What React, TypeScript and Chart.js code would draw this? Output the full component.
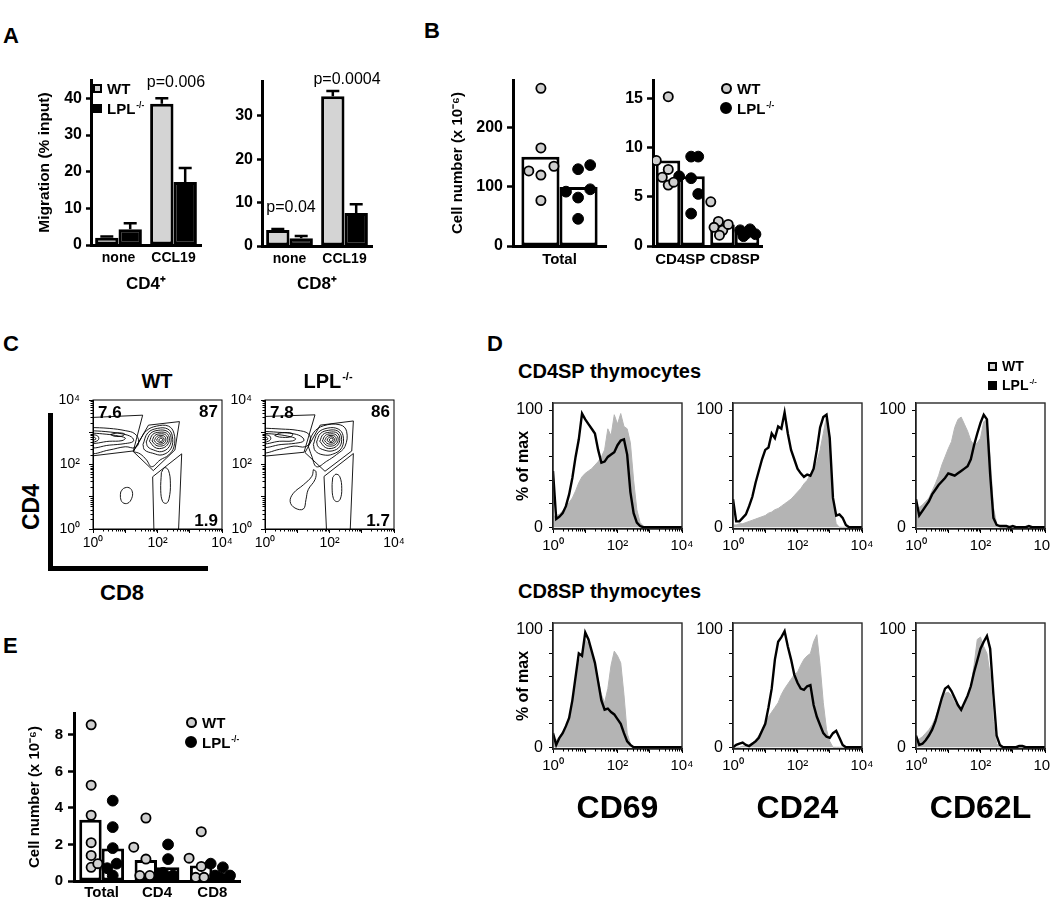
import React, { useEffect, useRef } from "react";
import { Chart, registerables } from "chart.js";
Chart.register(...registerables);

const FONT = "'Liberation Sans', Arial, Helvetica, sans-serif";
Chart.defaults.font.family = FONT;
Chart.defaults.color = "#000";

// ================= DATA =================
// Panel A (migration, % input)
const A_CATEGORIES = ["none", "CCL19"];
const A_CD4_WT = [2.0, 38.5];
const A_CD4_WT_ERR = [0.3, 1.5];
const A_CD4_LPL = [4.3, 17.2];
const A_CD4_LPL_ERR = [1.6, 3.8];
const A_CD8_WT = [3.7, 34.5];
const A_CD8_WT_ERR = [0.2, 1.2];
const A_CD8_LPL = [1.8, 7.6];
const A_CD8_LPL_ERR = [0.5, 2.0];
const A_CD4_TICKS = [0, 10, 20, 30, 40];
const A_CD8_TICKS = [0, 10, 20, 30];

// Panel B (cell number x 10^-6)
const B_TOTAL_CATEGORIES = ["Total"];
const B_TOTAL_WT_MEAN = [151];
const B_TOTAL_LPL_MEAN = [100];
const B_TOTAL_WT_POINTS = [
  { x: -0.2, y: 267 }, { x: -0.2, y: 166 }, { x: -0.33, y: 127 },
  { x: -0.2, y: 120 }, { x: -0.06, y: 135 }, { x: -0.2, y: 77 },
];
const B_TOTAL_LPL_POINTS = [
  { x: 0.2, y: 130 }, { x: 0.33, y: 137 }, { x: 0.07, y: 92 },
  { x: 0.33, y: 96 }, { x: 0.2, y: 82 }, { x: 0.2, y: 46 },
];
const B_TOTAL_TICKS = [0, 100, 200];

const B_SP_CATEGORIES = ["CD4SP", "CD8SP"];
const B_SP_WT_MEAN = [8.7, 2.2];
const B_SP_LPL_MEAN = [7.1, 1.5];
const B_SP_WT_POINTS = [
  { x: -0.44, y: 8.7 }, { x: -0.22, y: 15.2 }, { x: -0.22, y: 7.8 },
  { x: -0.33, y: 7.0 }, { x: -0.22, y: 6.2 }, { x: -0.12, y: 6.5 },
  { x: 0.56, y: 4.5 }, { x: 0.7, y: 2.5 }, { x: 0.62, y: 1.9 },
  { x: 0.78, y: 1.6 }, { x: 0.88, y: 2.2 }, { x: 0.72, y: 1.1 },
];
const B_SP_LPL_POINTS = [
  { x: 0.2, y: 9.1 }, { x: 0.33, y: 9.1 }, { x: -0.02, y: 7.1 },
  { x: 0.2, y: 6.9 }, { x: 0.33, y: 5.3 }, { x: 0.2, y: 3.3 },
  { x: 1.1, y: 1.6 }, { x: 1.22, y: 1.3 }, { x: 1.3, y: 1.5 },
  { x: 1.38, y: 1.2 }, { x: 1.16, y: 1.0 }, { x: 1.28, y: 1.7 },
];
const B_SP_TICKS = [0, 5, 10, 15];

// Panel E
const E_CATEGORIES = ["Total", "CD4", "CD8"];
const E_WT_MEAN = [3.35, 1.15, 0.85];
const E_LPL_MEAN = [1.78, 0.75, 0.42];
const E_WT_POINTS = [
  { x: -0.19, y: 8.55 }, { x: -0.19, y: 5.25 }, { x: -0.19, y: 3.6 }, { x: -0.19, y: 2.1 },
  { x: -0.19, y: 1.4 }, { x: -0.19, y: 0.75 }, { x: -0.07, y: 0.95 },
  { x: 0.58, y: 1.85 }, { x: 0.8, y: 3.45 }, { x: 0.8, y: 1.2 }, { x: 0.69, y: 0.3 }, { x: 0.87, y: 0.3 },
  { x: 1.58, y: 1.25 }, { x: 1.8, y: 2.7 }, { x: 1.8, y: 0.8 }, { x: 1.7, y: 0.2 }, { x: 1.85, y: 0.2 },
];
const E_LPL_POINTS = [
  { x: 0.2, y: 4.4 }, { x: 0.2, y: 2.95 }, { x: 0.2, y: 1.8 }, { x: 0.27, y: 0.95 }, { x: 0.1, y: 0.7 }, { x: 0.2, y: 0.3 },
  { x: 1.2, y: 2.0 }, { x: 1.2, y: 1.2 }, { x: 1.11, y: 0.45 }, { x: 1.2, y: 0.1 }, { x: 1.29, y: 0.3 }, { x: 1.15, y: 0.25 },
  { x: 1.97, y: 0.95 }, { x: 2.19, y: 0.75 }, { x: 2.05, y: 0.3 }, { x: 2.19, y: 0.1 }, { x: 2.32, y: 0.3 }, { x: 2.12, y: 0.2 },
];
const E_TICKS = [0, 2, 4, 6, 8];

// Log-axis labels (values are log10 units)
const LOG_MAJOR = [0, 1, 2, 3, 4];
const LOG_LABELS = ["10⁰", "", "10²", "", "10⁴"];
const LOG_MINOR = [
  0.301, 0.477, 0.602, 0.699, 0.778, 0.845, 0.903, 0.954,
  1.301, 1.477, 1.602, 1.699, 1.778, 1.845, 1.903, 1.954,
  2.301, 2.477, 2.602, 2.699, 2.778, 2.845, 2.903, 2.954,
  3.301, 3.477, 3.602, 3.699, 3.778, 3.845, 3.903, 3.954,
];

// Panel C contours (x = log10 CD8, y = log10 CD4)
type Pt = [number, number];
const C_WT_LOOPS: Pt[][] = [
  [[1.25, 2.4], [1.46, 2.76], [1.66, 3.05], [1.97, 3.19], [2.34, 3.19], [2.51, 2.97], [2.51, 2.55], [2.34, 2.29], [2.08, 2.14], [1.82, 1.93], [1.66, 2.14], [1.46, 2.33]],
  [[1.55, 2.62], [1.7, 2.98], [2.0, 3.12], [2.32, 3.1], [2.46, 2.88], [2.42, 2.5], [2.15, 2.3], [1.85, 2.35], [1.6, 2.45]],
  [[1.65, 2.7], [1.78, 2.96], [2.02, 3.06], [2.3, 3.03], [2.42, 2.84], [2.36, 2.55], [2.13, 2.4], [1.88, 2.45], [1.7, 2.55]],
  [[1.75, 2.72], [1.85, 2.93], [2.05, 3.0], [2.28, 2.97], [2.37, 2.8], [2.3, 2.6], [2.12, 2.5], [1.92, 2.53]],
  [[1.83, 2.73], [1.92, 2.9], [2.08, 2.95], [2.25, 2.92], [2.32, 2.78], [2.25, 2.63], [2.1, 2.57], [1.95, 2.6]],
  [[1.9, 2.74], [1.98, 2.87], [2.1, 2.9], [2.22, 2.87], [2.26, 2.76], [2.2, 2.66], [2.08, 2.63], [1.97, 2.66]],
  [[1.97, 2.75], [2.03, 2.84], [2.12, 2.86], [2.19, 2.82], [2.2, 2.74], [2.14, 2.68], [2.05, 2.69]],
  [[2.04, 2.76], [2.08, 2.81], [2.14, 2.81], [2.16, 2.76], [2.12, 2.72], [2.07, 2.72]],
  [[-0.1, 3.15], [0.5, 3.12], [1.0, 3.05], [1.3, 2.95], [1.42, 2.7], [1.3, 2.52], [1.0, 2.55], [0.5, 2.45], [-0.1, 2.38]],
  [[-0.1, 3.05], [0.4, 3.02], [0.9, 2.95], [1.2, 2.85], [1.25, 2.72], [1.0, 2.65], [0.5, 2.6], [-0.1, 2.55]],
  [[-0.1, 2.98], [0.3, 2.95], [0.7, 2.9], [1.0, 2.82], [0.9, 2.74], [0.5, 2.72], [-0.1, 2.68]],
  [[0.55, 2.93], [0.75, 2.98], [0.98, 2.95], [0.9, 2.88], [0.65, 2.88]],
  [[-0.1, 2.92], [0.12, 2.9], [0.18, 2.8], [0.1, 2.72], [-0.1, 2.7]],
  [[-0.1, 2.86], [0.06, 2.84], [0.08, 2.78], [-0.1, 2.76]],
  [[0.86, 1.15], [0.95, 1.26], [1.12, 1.28], [1.22, 1.15], [1.2, 0.95], [1.08, 0.8], [0.92, 0.82], [0.85, 0.98]],
  [[2.12, 1.75], [2.22, 1.9], [2.34, 1.82], [2.4, 1.4], [2.36, 0.95], [2.28, 0.8], [2.16, 0.85], [2.1, 1.2]],
];
const C_WT_GATES: Pt[][] = [
  [[0, 3.46], [1.54, 3.53], [1.25, 2.42], [0, 2.27]],
  [[1.72, 3.22], [2.68, 3.33], [2.54, 2.45], [1.87, 1.81], [1.25, 2.4]],
];
const C_WT_OPEN_GATES: Pt[][] = [
  [[1.89, -0.1], [1.85, 1.62], [2.75, 2.33], [2.65, -0.1]],
];
const C_LPL_LOOPS: Pt[][] = [
  [[1.34, 2.57], [1.5, 2.98], [1.81, 3.2], [2.33, 3.23], [2.53, 3.03], [2.48, 2.56], [2.22, 2.31], [1.91, 2.1], [1.6, 1.93], [1.45, 2.26]],
  [[1.5, 2.62], [1.64, 2.98], [1.95, 3.13], [2.27, 3.1], [2.42, 2.9], [2.38, 2.52], [2.1, 2.32], [1.8, 2.3], [1.56, 2.42]],
  [[1.6, 2.7], [1.72, 2.96], [1.97, 3.06], [2.25, 3.04], [2.37, 2.85], [2.32, 2.56], [2.08, 2.42], [1.83, 2.45], [1.65, 2.55]],
  [[1.7, 2.72], [1.8, 2.93], [2.0, 3.0], [2.23, 2.98], [2.32, 2.8], [2.25, 2.6], [2.07, 2.5], [1.87, 2.53]],
  [[1.78, 2.73], [1.87, 2.9], [2.03, 2.95], [2.2, 2.92], [2.27, 2.78], [2.2, 2.63], [2.05, 2.57], [1.9, 2.6]],
  [[1.85, 2.74], [1.93, 2.87], [2.05, 2.9], [2.17, 2.87], [2.21, 2.76], [2.15, 2.66], [2.03, 2.63], [1.92, 2.66]],
  [[1.92, 2.75], [1.98, 2.84], [2.07, 2.86], [2.14, 2.82], [2.15, 2.74], [2.09, 2.68], [2.0, 2.69]],
  [[1.99, 2.76], [2.03, 2.81], [2.09, 2.81], [2.11, 2.76], [2.07, 2.72], [2.02, 2.72]],
  [[1.5, 1.84], [1.45, 1.63], [1.19, 1.37], [0.88, 1.11], [0.78, 0.85], [0.93, 0.65], [1.19, 0.62], [1.27, 0.91], [1.34, 1.22], [1.55, 1.53], [1.58, 1.78]],
  [[-0.1, 3.13], [0.5, 3.1], [1.0, 3.06], [1.35, 2.95], [1.4, 2.72], [1.25, 2.55], [0.9, 2.57], [0.45, 2.47], [-0.1, 2.4]],
  [[-0.1, 3.03], [0.4, 3.0], [0.9, 2.95], [1.15, 2.85], [1.2, 2.73], [0.95, 2.66], [0.5, 2.62], [-0.1, 2.56]],
  [[-0.1, 2.97], [0.3, 2.94], [0.7, 2.88], [0.95, 2.8], [0.85, 2.73], [0.45, 2.72], [-0.1, 2.66]],
  [[0.3, 2.9], [0.5, 2.98], [0.85, 2.96], [0.8, 2.86], [0.45, 2.85]],
  [[-0.1, 2.92], [0.12, 2.9], [0.18, 2.8], [0.1, 2.72], [-0.1, 2.7]],
  [[-0.1, 2.86], [0.06, 2.84], [0.08, 2.78], [-0.1, 2.76]],
  [[2.1, 1.6], [2.2, 1.7], [2.32, 1.62], [2.38, 1.25], [2.33, 0.92], [2.22, 0.85], [2.12, 0.95], [2.08, 1.3]],
];
const C_LPL_GATES: Pt[][] = [
  [[0, 3.49], [1.55, 3.54], [1.21, 2.38], [0, 2.26]],
  [[1.71, 3.22], [2.74, 3.35], [2.69, 2.42], [1.86, 1.79], [1.24, 2.37]],
];
const C_LPL_OPEN_GATES: Pt[][] = [
  [[1.91, -0.1], [1.83, 1.63], [2.74, 2.34], [2.64, -0.1]],
];

// Panel D histograms (% of max) on a log10 grid
const HX = [0, 0.1, 0.2, 0.3, 0.4, 0.5, 0.6, 0.7, 0.8, 0.9, 1, 1.1, 1.2, 1.3, 1.4, 1.5, 1.6, 1.7, 1.8, 1.9, 2, 2.1, 2.2, 2.3, 2.4, 2.5, 2.6, 2.7, 2.8, 2.9, 3, 3.1, 3.2, 3.3, 3.4, 3.5, 3.6, 3.7, 3.8, 3.9, 4];
const D_CD4_CD69_WT = [9, 10, 11, 14, 17, 21, 25, 31, 38, 43, 46, 48, 50, 53, 56, 60, 66, 84, 78, 96, 88, 97, 86, 84, 72, 40, 15, 4, 1, 0, 0, 0, 0, 0, 0, 0, 0, 0, 0, 0, 0];
const D_CD4_CD69_LPL = [48, 7, 9, 12, 18, 28, 42, 60, 75, 97, 92, 88, 84, 80, 66, 55, 56, 60, 62, 64, 70, 74, 75, 62, 30, 12, 4, 1, 0, 0, 0, 0, 0, 0, 0, 0, 0, 0, 0, 0, 0];
const D_CD4_CD24_WT = [2, 2, 3, 3, 4, 5, 6, 7, 8, 9, 10, 12, 13, 15, 16, 18, 20, 22, 24, 27, 30, 33, 37, 40, 45, 50, 56, 66, 80, 95, 78, 20, 3, 0, 0, 0, 0, 0, 0, 0, 0];
const D_CD4_CD24_LPL = [24, 5, 5, 8, 11, 18, 26, 38, 48, 58, 66, 68, 80, 76, 86, 84, 98, 80, 66, 58, 50, 46, 43, 45, 44, 50, 66, 85, 94, 96, 76, 25, 10, 11, 8, 2, 0, 0, 0, 0, 0];
const D_CD4_CD62L_WT = [16, 17, 19, 22, 25, 31, 37, 44, 53, 60, 67, 73, 85, 92, 94, 88, 82, 74, 70, 72, 76, 90, 92, 60, 17, 3, 0, 0, 0, 0, 0, 0, 0, 0, 0, 0, 0, 0, 0, 0, 0];
const D_CD4_CD62L_LPL = [24, 10, 14, 18, 22, 28, 32, 36, 39, 42, 46, 45, 44, 46, 48, 50, 52, 58, 70, 80, 89, 96, 92, 45, 8, 2, 1, 1, 1, 0, 1, 0, 0, 0, 0, 1, 0, 0, 0, 0, 0];
const D_CD8_CD69_WT = [5, 6, 9, 13, 18, 24, 36, 55, 72, 80, 92, 88, 80, 70, 58, 45, 38, 50, 70, 82, 78, 72, 45, 12, 3, 0, 0, 0, 0, 0, 0, 0, 0, 0, 0, 0, 0, 0, 0, 0, 0];
const D_CD8_CD69_LPL = [12, 2, 8, 12, 18, 25, 40, 60, 80, 78, 98, 92, 82, 72, 56, 40, 32, 33, 30, 28, 24, 20, 12, 5, 2, 0, 0, 0, 0, 0, 0, 0, 0, 0, 0, 0, 0, 0, 0, 0, 0];
const D_CD8_CD24_WT = [0, 0, 0, 1, 1, 2, 4, 6, 10, 15, 20, 26, 30, 34, 38, 45, 50, 54, 58, 62, 64, 70, 75, 78, 80, 90, 96, 70, 38, 15, 5, 0, 0, 0, 0, 0, 0, 0, 0, 0, 0];
const D_CD8_CD24_LPL = [0, 2, 3, 4, 2, 1, 3, 5, 8, 14, 20, 34, 50, 75, 90, 94, 99, 86, 75, 62, 55, 50, 49, 52, 53, 36, 26, 19, 12, 9, 8, 12, 14, 8, 2, 0, 0, 0, 0, 0, 0];
const D_CD8_CD62L_WT = [6, 7, 9, 12, 15, 19, 25, 33, 40, 46, 47, 44, 38, 35, 33, 34, 42, 52, 70, 92, 94, 86, 80, 62, 22, 3, 0, 0, 0, 0, 0, 0, 0, 0, 0, 0, 0, 0, 0, 0, 0];
const D_CD8_CD62L_LPL = [10, 2, 3, 6, 10, 15, 22, 32, 42, 50, 52, 48, 42, 36, 32, 38, 44, 52, 64, 74, 84, 90, 95, 84, 45, 10, 2, 0, 0, 0, 0, 0, 1, 1, 0, 0, 0, 0, 0, 0, 0];
const D_TICKS = [0, 20, 40, 60, 80, 100];

// ================= STYLE HELPERS =================
const WT_BAR = "#d4d4d4";
const WT_DOT = "#cfcfcf";
const HIST_GRAY = "#b4b4b4";
const bold = (size: number) => ({ family: FONT, size, weight: "bold" as const });
const norm = (size: number) => ({ family: FONT, size, weight: "normal" as const });

function valueAxis(min: number, max: number, ticks: number[], o: any) {
  return {
    type: "linear", position: "left", min, max,
    afterBuildTicks: (s: any) => { s.ticks = ticks.map((v) => ({ value: v })); },
    ticks: { font: o.font, color: "#000", padding: o.pad, autoSkip: false, callback: o.label || ((v: any) => String(v)) },
    grid: { display: true, drawOnChartArea: false, drawTicks: true, tickLength: o.tickLen, tickWidth: o.tickW, tickColor: "#000" },
    border: { display: true, width: o.lw, color: "#000" },
    title: o.title ? { display: true, text: o.title, font: o.titleFont, color: "#000", padding: 0 } : { display: false },
  };
}
function catAxis(o: any) {
  return {
    type: "category", position: "bottom", offset: true,
    ticks: { font: o.font, color: "#000", padding: o.pad, autoSkip: false, maxRotation: 0 },
    grid: { display: false, drawTicks: false, tickLength: 0 },
    border: { display: true, width: o.lw, color: "#000" },
    title: o.title ? { display: true, text: o.title, font: o.titleFont, color: "#000", padding: 0 } : { display: false },
  };
}
function logAxis(pos: "bottom" | "left", o: any) {
  return {
    type: "linear", position: pos, min: 0, max: 4,
    afterBuildTicks: (s: any) => { s.ticks = LOG_MAJOR.map((v) => ({ value: v })); },
    ticks: { font: o.font, color: "#000", padding: o.pad, autoSkip: false, maxRotation: 0, callback: (v: any) => LOG_LABELS[Math.round(v)] || "" },
    grid: { display: true, drawOnChartArea: false, drawTicks: true, tickLength: 4, tickWidth: 1, tickColor: "#000" },
    border: { display: true, width: o.lw, color: "#000" },
    title: o.title ? { display: true, text: o.title, font: o.titleFont, color: "#000", padding: 0 } : { display: false },
  };
}
function ghostAxis(pos: "bottom" | "left", min: number, max: number) {
  return {
    type: "linear", position: pos, min, max,
    ticks: { display: false },
    grid: { display: false, drawTicks: false },
    border: { display: false },
    title: { display: false },
  };
}

// ================= PLUGINS =================
const errBarsPlugin = {
  id: "errBars",
  afterDatasetsDraw(chart: any, _a: any, opts: any) {
    if (!opts || !opts.items) return;
    const ctx = chart.ctx;
    const ys = chart.scales.y;
    ctx.save();
    ctx.strokeStyle = "#000";
    ctx.lineWidth = opts.width;
    opts.items.forEach((it: any) => {
      const meta = chart.getDatasetMeta(it.ds);
      const vals = chart.data.datasets[it.ds].data;
      meta.data.forEach((el: any, i: number) => {
        const top = ys.getPixelForValue(vals[i] + it.err[i]);
        ctx.beginPath();
        ctx.moveTo(el.x, el.y);
        ctx.lineTo(el.x, top);
        ctx.moveTo(el.x - opts.cap / 2, top);
        ctx.lineTo(el.x + opts.cap / 2, top);
        ctx.stroke();
      });
    });
    ctx.restore();
  },
};
const framePlugin = {
  id: "frame",
  afterDatasetsDraw(chart: any, _a: any, opts: any) {
    if (!opts || !opts.color) return;
    const { left, top, right, bottom } = chart.chartArea;
    const ctx = chart.ctx;
    ctx.save();
    ctx.strokeStyle = opts.color;
    ctx.lineWidth = opts.width;
    ctx.strokeRect(left, top, right - left, bottom - top);
    ctx.restore();
  },
};
const minorTicksPlugin = {
  id: "minorTicks",
  afterDraw(chart: any, _a: any, opts: any) {
    if (!opts || !opts.len) return;
    const { left, bottom } = chart.chartArea;
    const ctx = chart.ctx;
    ctx.save();
    ctx.strokeStyle = "#000";
    ctx.lineWidth = 1;
    ctx.beginPath();
    (opts.x || []).forEach((v: number) => {
      const px = Math.round(chart.scales.x.getPixelForValue(v)) + 0.5;
      ctx.moveTo(px, bottom);
      ctx.lineTo(px, bottom + opts.len);
    });
    (opts.y || []).forEach((v: number) => {
      const py = Math.round(chart.scales.y.getPixelForValue(v)) + 0.5;
      ctx.moveTo(left - opts.len, py);
      ctx.lineTo(left, py);
    });
    ctx.stroke();
    ctx.restore();
  },
};

// ================= CONFIG BUILDERS =================
function migrationConfig(wt: number[], wtErr: number[], lpl: number[], lplErr: number[], max: number, ticks: number[], xTitle: string, yTitle?: string) {
  return {
    type: "bar",
    data: {
      labels: A_CATEGORIES,
      datasets: [
        { label: "WT", data: wt, backgroundColor: WT_BAR, borderColor: "#000", borderWidth: 3, borderSkipped: false, categoryPercentage: 0.85, barPercentage: 1 },
        { label: "LPL-/-", data: lpl, backgroundColor: "#000", borderColor: "#000", borderWidth: 3, borderSkipped: false, categoryPercentage: 0.85, barPercentage: 1 },
      ],
    },
    options: {
      scales: {
        x: catAxis({ font: bold(14), pad: 5, lw: 3, title: xTitle, titleFont: bold(17) }),
        y: valueAxis(0, max, ticks, { font: bold(16), pad: 4, tickLen: 5, tickW: 2.5, lw: 3, title: yTitle, titleFont: bold(15.5) }),
      },
      plugins: { errBars: { items: [{ ds: 0, err: wtErr }, { ds: 1, err: lplErr }], width: 2.5, cap: 13 } },
    },
    plugins: [errBarsPlugin],
  };
}

// Mean bars (open) on a category axis
function meanBarsConfig(cats: string[], wtMean: number[], lplMean: number[], max: number, ticks: number[], o: any) {
  return {
    type: "bar",
    data: {
      labels: cats,
      datasets: [
        { label: "WT", data: wtMean, backgroundColor: "#fff", borderColor: "#000", borderWidth: 3, borderSkipped: false, categoryPercentage: o.catPct, barPercentage: 1 },
        { label: "LPL-/-", data: lplMean, backgroundColor: "#fff", borderColor: "#000", borderWidth: 3, borderSkipped: false, categoryPercentage: o.catPct, barPercentage: 1 },
      ],
    },
    options: {
      scales: {
        x: catAxis({ font: bold(15), pad: o.xPad, lw: 3 }),
        y: valueAxis(0, max, ticks, { font: bold(o.yFont), pad: o.yPad, tickLen: 6, tickW: 2.5, lw: 3, title: o.yTitle, titleFont: bold(15) }),
      },
    },
  };
}
// Individual points, overlaid with the same plot area (x: category index + jitter)
function pointsConfig(nCats: number, wtPts: any[], lplPts: any[], max: number) {
  return {
    type: "scatter",
    data: {
      datasets: [
        { label: "WT", data: wtPts, pointRadius: 4.6, pointBackgroundColor: WT_DOT, backgroundColor: WT_DOT, pointBorderColor: "#000", borderColor: "#000", pointBorderWidth: 1.8 },
        { label: "LPL-/-", data: lplPts, pointRadius: 5.4, pointBackgroundColor: "#000", backgroundColor: "#000", pointBorderColor: "#000", borderColor: "#000", pointBorderWidth: 1 },
      ],
    },
    options: {
      scales: {
        x: ghostAxis("bottom", -0.5, nCats - 0.5),
        y: ghostAxis("left", 0, max),
      },
    },
  };
}

function contourConfig(loops: Pt[][], gates: Pt[][], openGates: Pt[][]) {
  const line = (pts: Pt[], tension: number) => ({
    data: pts.map(([x, y]) => ({ x, y })), showLine: true, pointRadius: 0, borderColor: "#000", borderWidth: 0.9, tension, fill: false,
  });
  const datasets: any[] = [];
  loops.forEach((l) => datasets.push(line([...l, l[0]], 0.4)));
  gates.forEach((g) => datasets.push(line([...g, g[0]], 0)));
  openGates.forEach((g) => datasets.push(line(g, 0)));
  return {
    type: "scatter",
    data: { datasets },
    options: {
      scales: {
        x: logAxis("bottom", { font: norm(14), pad: 2, lw: 1 }),
        y: logAxis("left", { font: norm(14), pad: 9, lw: 1 }),
      },
      plugins: { frame: { color: "#000", width: 1 }, minorTicks: { x: LOG_MINOR, y: LOG_MINOR, len: 2.5 } },
    },
    plugins: [framePlugin, minorTicksPlugin],
  };
}

function histConfig(wt: number[], lpl: number[], yTitle: string | null, xTitle: string | null) {
  return {
    type: "line",
    data: {
      datasets: [
        { label: "LPL-/-", data: HX.map((x, i) => ({ x, y: lpl[i] })), borderColor: "#000", borderWidth: 2.4, pointRadius: 0, fill: false, tension: 0, order: 0 },
        { label: "WT", data: HX.map((x, i) => ({ x, y: wt[i] })), borderColor: HIST_GRAY, backgroundColor: HIST_GRAY, borderWidth: 1, pointRadius: 0, fill: "origin", tension: 0, order: 1 },
      ],
    },
    options: {
      scales: {
        x: logAxis("bottom", { font: norm(15), pad: 4, lw: 1.3, title: xTitle, titleFont: bold(32) }),
        y: valueAxis(-1.5, 106, D_TICKS, {
          font: norm(16), pad: 6, tickLen: 4, tickW: 1, lw: 1.3,
          label: (v: any) => (v === 0 || v === 100 ? String(v) : ""),
          title: yTitle, titleFont: bold(16),
        }),
      },
      plugins: { frame: { color: "#2a2a2a", width: 1.4 }, minorTicks: { x: LOG_MINOR, len: 2.5 } },
    },
    plugins: [framePlugin, minorTicksPlugin],
  };
}

// ================= COMPONENTS =================
type Box = { l: number; t: number; r: number; b: number };

function ChartCanvas({ box, area, make }: { box: Box; area: Box; make: () => any }) {
  const ref = useRef<HTMLCanvasElement | null>(null);
  useEffect(() => {
    const cfg = make();
    const o = cfg.options;
    o.responsive = false;
    o.maintainAspectRatio = false;
    o.animation = false;
    o.devicePixelRatio = 1;
    o.events = [];
    o.layout = { padding: { left: 0, top: area.t - box.t, right: box.r - area.r, bottom: 0 } };
    o.plugins = { legend: { display: false }, tooltip: { enabled: false }, ...(o.plugins || {}) };
    const zero = (s: any) => { s.paddingLeft = 0; s.paddingRight = 0; s.paddingTop = 0; s.paddingBottom = 0; };
    o.scales.x.afterFit = (s: any) => { s.height = box.b - area.b; zero(s); };
    o.scales.y.afterFit = (s: any) => { s.width = area.l - box.l; zero(s); };
    const chart = new Chart(ref.current as HTMLCanvasElement, cfg);
    return () => chart.destroy();
  }, []);
  const w = box.r - box.l;
  const h = box.b - box.t;
  return <canvas ref={ref} width={w} height={h} style={{ position: "absolute", left: box.l, top: box.t, width: w, height: h }} />;
}

function T({ x, y, children, size = 15, b = true, anchor = "c", rot = 0 }: any) {
  const tx = anchor === "l" ? "0" : anchor === "r" ? "-100%" : "-50%";
  return (
    <div style={{
      position: "absolute", left: x, top: y, transform: `translate(${tx},-50%) rotate(${rot}deg)`,
      fontFamily: FONT, fontSize: size, fontWeight: b ? 700 : 400, lineHeight: 1, whiteSpace: "nowrap", color: "#000",
    }}>{children}</div>
  );
}
const SUP: any = { fontSize: "0.55em", verticalAlign: "0.75em", lineHeight: 0, marginLeft: 1 };
const Lpl = () => <>LPL<sup style={SUP}>-/-</sup></>;

function Sq({ x, y, fill }: any) {
  return <div style={{ position: "absolute", left: x, top: y, width: 9, height: 9, boxSizing: "border-box", border: "2px solid #000", background: fill }} />;
}
function Dot({ cx, cy, r, fill }: any) {
  return <div style={{ position: "absolute", left: cx - r, top: cy - r, width: 2 * r, height: 2 * r, boxSizing: "border-box", borderRadius: "50%", border: "2px solid #000", background: fill }} />;
}

const B1_BOX = { l: 449, t: 70, r: 620, b: 280 };
const B1_AREA = { l: 513, t: 80, r: 606, b: 246 };
const B2_BOX = { l: 620, t: 70, r: 775, b: 280 };
const B2_AREA = { l: 653, t: 80, r: 762, b: 246 };
const E_BOX = { l: 26, t: 705, r: 252, b: 905 };
const E_AREA = { l: 74, t: 713, r: 240, b: 881 };

export default function App() {
  return (
    <div style={{ position: "absolute", left: 0, top: 0, width: 1050, height: 907, background: "#fff", overflow: "hidden" }}>
      {/* Panel A */}
      <ChartCanvas box={{ l: 35, t: 70, r: 212, b: 295 }} area={{ l: 91, t: 80, r: 201, b: 245 }}
        make={() => migrationConfig(A_CD4_WT, A_CD4_WT_ERR, A_CD4_LPL, A_CD4_LPL_ERR, 45, A_CD4_TICKS, "CD4⁺", "Migration (% input)")} />
      <ChartCanvas box={{ l: 225, t: 70, r: 385, b: 295 }} area={{ l: 262, t: 81, r: 372, b: 246 }}
        make={() => migrationConfig(A_CD8_WT, A_CD8_WT_ERR, A_CD8_LPL, A_CD8_LPL_ERR, 38, A_CD8_TICKS, "CD8⁺")} />

      {/* Panel B */}
      <ChartCanvas box={B1_BOX} area={B1_AREA}
        make={() => meanBarsConfig(B_TOTAL_CATEGORIES, B_TOTAL_WT_MEAN, B_TOTAL_LPL_MEAN, 281, B_TOTAL_TICKS,
          { catPct: 0.82, xPad: 5, yFont: 16, yPad: 4, yTitle: "Cell number (x 10⁻⁶)" })} />
      <ChartCanvas box={B1_BOX} area={B1_AREA}
        make={() => pointsConfig(B_TOTAL_CATEGORIES.length, B_TOTAL_WT_POINTS, B_TOTAL_LPL_POINTS, 281)} />
      <ChartCanvas box={B2_BOX} area={B2_AREA}
        make={() => meanBarsConfig(B_SP_CATEGORIES, B_SP_WT_MEAN, B_SP_LPL_MEAN, 16.9, B_SP_TICKS,
          { catPct: 0.9, xPad: 5, yFont: 16, yPad: 4 })} />
      <ChartCanvas box={B2_BOX} area={B2_AREA}
        make={() => pointsConfig(B_SP_CATEGORIES.length, B_SP_WT_POINTS, B_SP_LPL_POINTS, 16.9)} />

      {/* Panel C */}
      <ChartCanvas box={{ l: 55, t: 392, r: 236, b: 562 }} area={{ l: 93, t: 400, r: 222, b: 529 }}
        make={() => contourConfig(C_WT_LOOPS, C_WT_GATES, C_WT_OPEN_GATES)} />
      <ChartCanvas box={{ l: 226, t: 392, r: 408, b: 562 }} area={{ l: 265, t: 400, r: 394, b: 529 }}
        make={() => contourConfig(C_LPL_LOOPS, C_LPL_GATES, C_LPL_OPEN_GATES)} />

      {/* Panel D */}
      <ChartCanvas box={{ l: 514, t: 395, r: 700, b: 562 }} area={{ l: 553, t: 403, r: 682, b: 529 }}
        make={() => histConfig(D_CD4_CD69_WT, D_CD4_CD69_LPL, "% of max", null)} />
      <ChartCanvas box={{ l: 690, t: 395, r: 880, b: 562 }} area={{ l: 733, t: 403, r: 862, b: 529 }}
        make={() => histConfig(D_CD4_CD24_WT, D_CD4_CD24_LPL, null, null)} />
      <ChartCanvas box={{ l: 874, t: 395, r: 1050, b: 562 }} area={{ l: 916, t: 403, r: 1045, b: 529 }}
        make={() => histConfig(D_CD4_CD62L_WT, D_CD4_CD62L_LPL, null, null)} />
      <ChartCanvas box={{ l: 514, t: 615, r: 700, b: 828 }} area={{ l: 553, t: 623, r: 682, b: 749 }}
        make={() => histConfig(D_CD8_CD69_WT, D_CD8_CD69_LPL, "% of max", "CD69")} />
      <ChartCanvas box={{ l: 690, t: 615, r: 880, b: 828 }} area={{ l: 733, t: 623, r: 862, b: 749 }}
        make={() => histConfig(D_CD8_CD24_WT, D_CD8_CD24_LPL, null, "CD24")} />
      <ChartCanvas box={{ l: 874, t: 615, r: 1050, b: 828 }} area={{ l: 916, t: 623, r: 1045, b: 749 }}
        make={() => histConfig(D_CD8_CD62L_WT, D_CD8_CD62L_LPL, null, "CD62L")} />

      {/* Panel E */}
      <ChartCanvas box={E_BOX} area={E_AREA}
        make={() => meanBarsConfig(E_CATEGORIES, E_WT_MEAN, E_LPL_MEAN, 9.2, E_TICKS,
          { catPct: 0.81, xPad: 3, yFont: 15, yPad: 5, yTitle: "Cell number (x 10⁻⁶)" })} />
      <ChartCanvas box={E_BOX} area={E_AREA}
        make={() => pointsConfig(E_CATEGORIES.length, E_WT_POINTS, E_LPL_POINTS, 9.2)} />

      {/* Panel letters */}
      <T x={3} y={36} size={22} anchor="l">A</T>
      <T x={424} y={31} size={22} anchor="l">B</T>
      <T x={3} y={344} size={22} anchor="l">C</T>
      <T x={487} y={344} size={22} anchor="l">D</T>
      <T x={3} y={646} size={22} anchor="l">E</T>

      {/* A annotations */}
      <Sq x={93} y={84} fill={WT_BAR} />
      <T x={107} y={88} size={15} anchor="l">WT</T>
      <Sq x={93} y={104} fill="#000" />
      <T x={107} y={108} size={15} anchor="l"><Lpl /></T>
      <T x={176} y={82} size={16} b={false}>p=0.006</T>
      <T x={347} y={79} size={16} b={false}>p=0.0004</T>
      <T x={291} y={207} size={16} b={false}>p=0.04</T>

      {/* B legend */}
      <Dot cx={726} cy={88} r={5.5} fill={WT_DOT} />
      <T x={737} y={88} size={15} anchor="l">WT</T>
      <Dot cx={726} cy={108} r={6} fill="#000" />
      <T x={737} y={108} size={15} anchor="l"><Lpl /></T>

      {/* C annotations */}
      <T x={157} y={381} size={20}>WT</T>
      <T x={328} y={381} size={20}><Lpl /></T>
      <T x={98} y={412} size={17} anchor="l">7.6</T>
      <T x={218} y={411} size={17} anchor="r">87</T>
      <T x={218} y={520} size={17} anchor="r">1.9</T>
      <T x={270} y={412} size={17} anchor="l">7.8</T>
      <T x={390} y={411} size={17} anchor="r">86</T>
      <T x={390} y={520} size={17} anchor="r">1.7</T>
      <T x={31} y={507} size={23} rot={-90}>CD4</T>
      <T x={122} y={593} size={22}>CD8</T>
      <div style={{ position: "absolute", left: 48, top: 413, width: 5, height: 158, background: "#000" }} />
      <div style={{ position: "absolute", left: 48, top: 566, width: 160, height: 5, background: "#000" }} />

      {/* D annotations */}
      <T x={518} y={371} size={20} anchor="l">CD4SP thymocytes</T>
      <T x={518} y={591} size={20} anchor="l">CD8SP thymocytes</T>
      <Sq x={988} y={362} fill={WT_BAR} />
      <T x={1002} y={366} size={14} anchor="l">WT</T>
      <Sq x={988} y={381} fill="#000" />
      <T x={1002} y={385} size={14} anchor="l"><Lpl /></T>

      {/* E legend */}
      <Dot cx={191} cy={722} r={5.5} fill={WT_DOT} />
      <T x={202} y={722} size={15} anchor="l">WT</T>
      <Dot cx={191} cy={742} r={6} fill="#000" />
      <T x={202} y={742} size={15} anchor="l"><Lpl /></T>
    </div>
  );
}
